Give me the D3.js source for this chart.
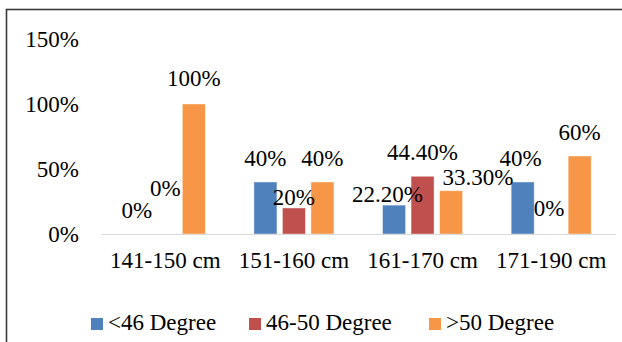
<!DOCTYPE html>
<html>
<head>
<meta charset="utf-8">
<script src="https://cdn.jsdelivr.net/npm/d3@7"></script>
<style>
  html, body { margin: 0; padding: 0; background: #fff; }
  svg { display: block; }
</style>
</head>
<body>
<script>
// ---- data ----
const categories = ["141-150 cm", "151-160 cm", "161-170 cm", "171-190 cm"];
const seriesNames = ["<46 Degree", "46-50 Degree", ">50 Degree"];
const lessThan46 = [0, 40, 22.2, 40];
const between46and50 = [0, 20, 44.4, 0];
const greaterThan50 = [100, 40, 33.3, 60];
const valueLabels = [
  ["0%", "40%", "22.20%", "40%"],
  ["0%", "20%", "44.40%", "0%"],
  ["100%", "40%", "33.30%", "60%"]
];
const yTicks = [0, 50, 100, 150];
const yTickLabels = ["0%", "50%", "100%", "150%"];

// ---- layout / style (not data) ----
const FONT = "Liberation Serif";
const colors = ["#4f81bd", "#c0504d", "#f79646"];
// manual label nudges [dx, dy] per series per category, as placed in the original
const labelNudge = [
  [[0, 0], [0, 0], [-6.5, 13], [-2, 0]],
  [[0, -22], [0, 13.5], [0, 0], [-2, -1.5]],
  [[0, -1.5], [0, 0], [27, 11], [0, 0]]
];

const W = 622, H = 342;
const svg = d3.select("body").append("svg").attr("width", W).attr("height", H);

function styleText(sel) {
  return sel.style("font-family", FONT).style("font-size", "23px").style("fill", "#000");
}

// outer frame (extends past the right/bottom edges)
svg.append("rect")
  .attr("x", 6.5).attr("y", 9.5)
  .attr("width", 700).attr("height", 400)
  .attr("fill", "none").attr("stroke", "#3a3a3a").attr("stroke-width", 1.6);

const series = [lessThan46, between46and50, greaterThan50];

const x0 = d3.scaleBand().domain(categories).range([101, 615.5]).paddingInner(0).paddingOuter(0);
const x1 = d3.scaleBand().domain(d3.range(3)).range([0, x0.bandwidth()])
  .paddingInner(0.193).paddingOuter(0.853);
const y = d3.scaleLinear().domain([0, 150]).range([234, 39]);

// y tick labels (no axis line)
const yAxis = d3.axisLeft(y).tickValues(yTicks).tickSize(0).tickPadding(0)
  .tickFormat((d, i) => yTickLabels[i]);
const yg = svg.append("g").attr("transform", "translate(79,0)").call(yAxis);
yg.select(".domain").remove();
styleText(yg.selectAll("text")).attr("dy", "0.32em");

// bars
series.forEach((vals, s) => {
  svg.append("g").selectAll("rect").data(vals).enter().append("rect")
    .attr("x", (d, i) => x0(categories[i]) + x1(s))
    .attr("y", d => y(d))
    .attr("width", x1.bandwidth())
    .attr("height", d => y(0) - y(d))
    .attr("fill", colors[s])
    .attr("stroke", "rgba(255,255,255,0.5)")
    .attr("stroke-width", 0.8);
});

// x axis line + labels
const xAxis = d3.axisBottom(x0).tickSize(0).tickPadding(0);
const xg = svg.append("g").attr("transform", `translate(0,${y(0)})`).call(xAxis);
xg.select(".domain").attr("stroke", "#d9d9d9").attr("stroke-width", 1.2);
styleText(xg.selectAll("text")).attr("y", 34).attr("dy", 0);

// value labels
series.forEach((vals, s) => {
  styleText(svg.append("g").selectAll("text").data(vals).enter().append("text"))
    .attr("x", (d, i) => x0(categories[i]) + x1(s) + x1.bandwidth() / 2 + labelNudge[s][i][0])
    .attr("y", (d, i) => y(d) - 16.5 + labelNudge[s][i][1])
    .attr("text-anchor", "middle")
    .text((d, i) => valueLabels[s][i]);
});

// legend
const legendX = [91, 249, 429];
const lg = svg.append("g");
seriesNames.forEach((name, s) => {
  lg.append("rect").attr("x", legendX[s]).attr("y", 318).attr("width", 12).attr("height", 12)
    .attr("fill", colors[s]);
  styleText(lg.append("text")).attr("x", legendX[s] + 17).attr("y", 329.5).text(name);
});
</script>
</body>
</html>
